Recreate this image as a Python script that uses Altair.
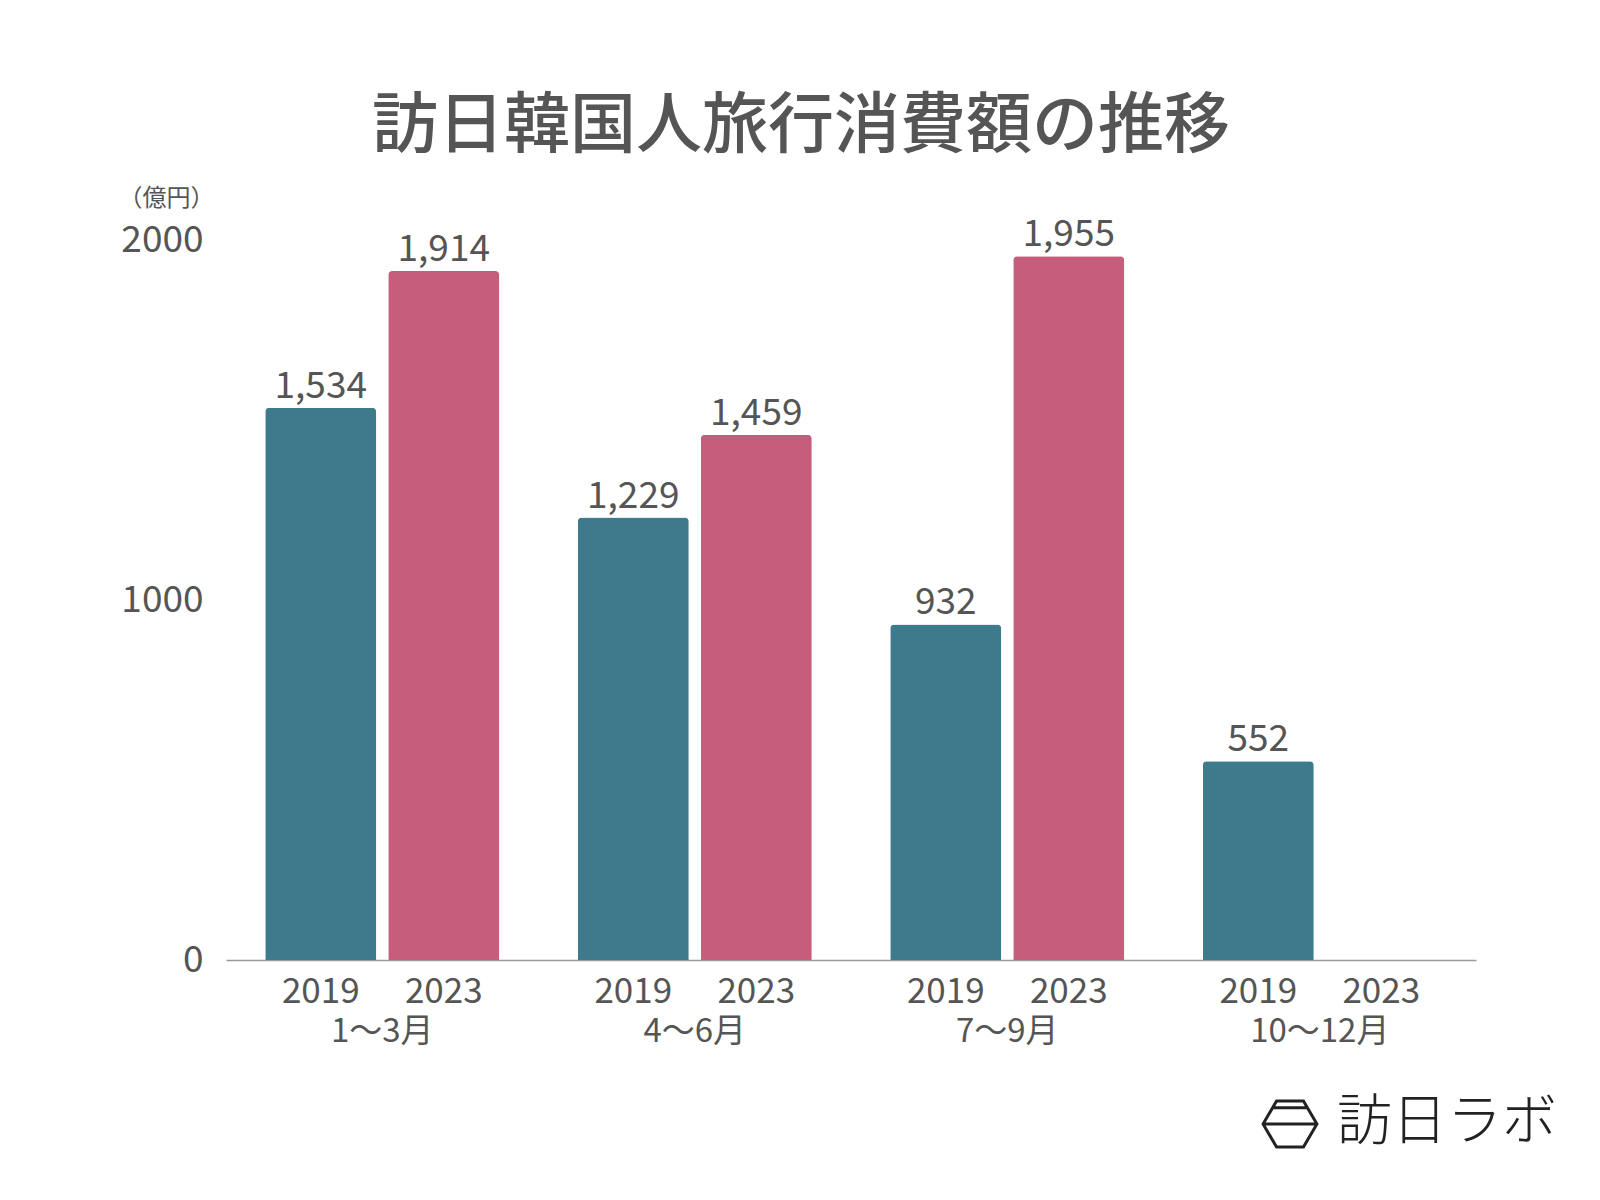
import altair as alt
import pandas as pd

quarters = ["1〜3月", "4〜6月", "7〜9月", "10〜12月"]
years = ["2019", "2023"]
values_2019 = [1534, 1229, 932, 552]
values_2023 = [1914, 1459, 1955, None]
year_colors = ["#3d7b8c", "#c65d7c"]

rows = []
for i, q in enumerate(quarters):
    rows.append({"quarter": q, "year": "2019", "value": values_2019[i]})
    rows.append({"quarter": q, "year": "2023", "value": values_2023[i]})
df = pd.DataFrame(rows)

FONT = "Noto Sans CJK JP"
TXT = "#555555"

x_enc = alt.X("quarter:N", sort=quarters,
              scale=alt.Scale(paddingInner=0, paddingOuter=0),
              axis=alt.Axis(title=None, labelAngle=0, labelFontSize=33, labelFont=FONT,
                            labelColor=TXT, labelPadding=55, ticks=False,
                            domainColor="#999999", domainWidth=1.5))
xoff = alt.XOffset("year:N", sort=years,
                   scale=alt.Scale(paddingInner=0.0976, paddingOuter=0.319))
y_enc = alt.Y("value:Q", scale=alt.Scale(domain=[0, 2000]),
              axis=alt.Axis(values=[0, 1000, 2000], format="d", grid=False, domain=False, ticks=False,
                            labelFontSize=37, labelFont=FONT, labelColor=TXT, labelPadding=23,
                            title="（億円）", titleAngle=0, titleFontSize=24, titleFont=FONT,
                            titleColor=TXT, titleFontWeight="normal", titleX=-60, titleY=-42,
                            titleAlign="center", titleBaseline="middle"))

base = alt.Chart(df)

bars = base.mark_bar(cornerRadiusTopLeft=4, cornerRadiusTopRight=4).encode(
    x=x_enc, xOffset=xoff, y=y_enc,
    color=alt.Color("year:N", sort=years,
                    scale=alt.Scale(domain=years, range=year_colors), legend=None),
).transform_filter("isValid(datum.value)")

value_labels = base.mark_text(baseline="bottom", dy=-2, fontSize=37, font=FONT, color=TXT).encode(
    x=alt.X("quarter:N", sort=quarters), xOffset=alt.XOffset("year:N", sort=years),
    y="value:Q", text=alt.Text("value:Q", format=","),
).transform_filter("isValid(datum.value)")

year_labels = base.mark_text(baseline="middle", dy=32, fontSize=35, font=FONT, color=TXT).encode(
    x=alt.X("quarter:N", sort=quarters), xOffset=alt.XOffset("year:N", sort=years),
    y=alt.datum(0), text="year:N",
)

logo_df = pd.DataFrame({"label": ["訪日ラボ"]})
hex_path = ("M -1 0 L -0.5 -0.85 L 0.5 -0.85 L 1 0 L 0.5 0.85 L -0.5 0.85 Z "
            "M -1 0 L 1 0 M -0.64 -0.6 L 0.64 -0.6")
logo_icon = alt.Chart(logo_df).mark_point(shape=hex_path, filled=False, stroke="#222222",
                                           strokeWidth=3, size=2900, opacity=1).encode(
    x=alt.value(1064), y=alt.value(884))
logo_text = alt.Chart(logo_df).mark_text(fontSize=55, font=FONT, fontWeight=300,
                                          color="#222222", baseline="middle").encode(
    x=alt.value(1221), y=alt.value(882), text="label:N")

chart = alt.layer(bars, value_labels, year_labels, logo_icon, logo_text).properties(
    width=1250, height=720,
    autosize=alt.AutoSizeParams(type="none"),
    padding={"left": 218, "top": 232, "right": 116, "bottom": 232},
    title=alt.TitleParams("訪日韓国人旅行消費額の推移", fontSize=66, font=FONT, fontWeight=500,
                          color=TXT, anchor="middle", dx=-50, offset=25),
).configure(background="white").configure_view(stroke=None, strokeWidth=0)

chart.save("out.html", embed_options={"renderer": "svg", "actions": False})
